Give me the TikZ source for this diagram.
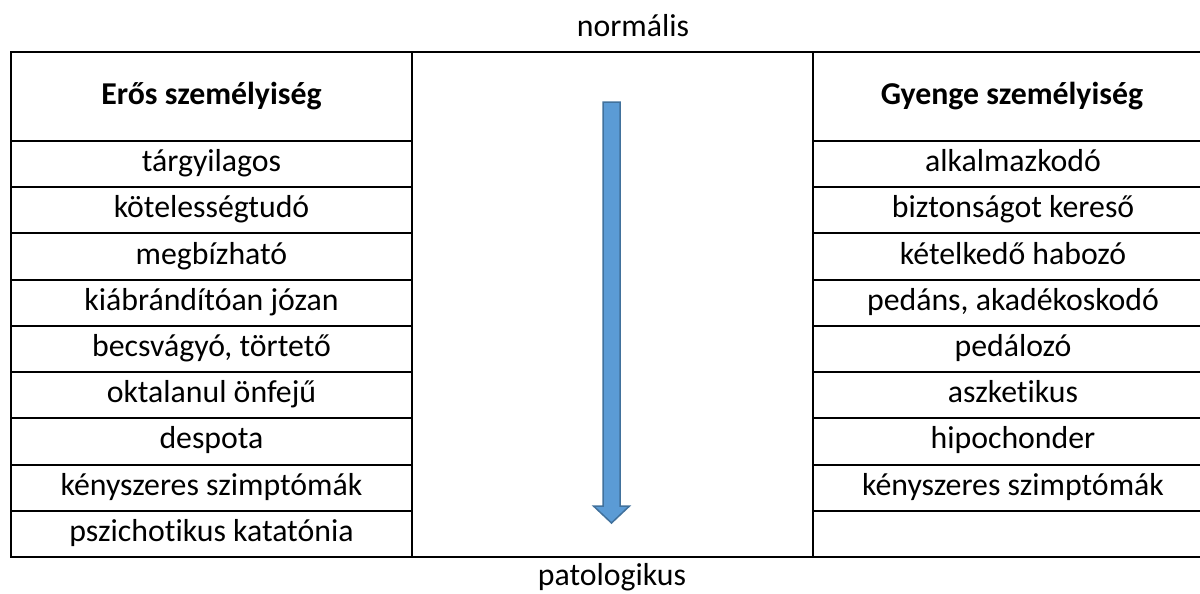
\documentclass[tikz,border=0pt]{standalone}
\usepackage{fontspec}
\setmainfont{Carlito}[Ligatures=NoCommon]
\definecolor{arrfill}{HTML}{5B9BD5}
\definecolor{arrline}{HTML}{41719C}
\begin{document}
\begin{tikzpicture}[x=1pt,y=-1pt,
  cell/.style={anchor=base,inner sep=0pt,font=\fontsize{31.8}{38}\selectfont},
  head/.style={cell,font=\fontsize{31.8}{38}\selectfont\bfseries},
  grid/.style={line width=2pt,black}]
\useasboundingbox (0,0) rectangle (1200,594);
% table lines
\coordinate (tl) at (11,52);
\coordinate (br) at (1213,557);
\draw[grid] (tl) rectangle (br);
\draw[grid] (412,52) -- (412,557);
\draw[grid] (813,52) -- (813,557);
\foreach \i in {0,...,8}{
  \draw[grid] (11,{141+\i*46.222}) -- (412,{141+\i*46.222});
  \draw[grid] (813,{141+\i*46.222}) -- (1213,{141+\i*46.222});
}
% labels
\node[cell] (top) at (633,37) {normális};
\node[cell] (bot) at (612,585) {patologikus};
\node[head] (hl) at (211.5,104) {Erős személyiség};
\node[head] (hr) at (1012,104) {Gyenge személyiség};
\foreach \t [count=\k] in {tárgyilagos,kötelességtudó,megbízható,kiábrándítóan józan,{becsvágyó, törtető},oktalanul önfejű,despota,kényszeres szimptómák,pszichotikus katatónia}{
  \node[cell] (l\k) at (211.5,{141+(\k-0.5)*46.222+7.5}) {\t};
}
\foreach \t [count=\k] in {alkalmazkodó,biztonságot kereső,kételkedő habozó,{pedáns, akadékoskodó},pedálozó,aszketikus,hipochonder,kényszeres szimptómák}{
  \node[cell] (r\k) at (1013,{141+(\k-0.5)*46.222+7.5}) {\t};
}
% arrow
\coordinate (atop) at (611.5,102);
\coordinate (atip) at (611.5,523);
\draw[line width=1.5pt,arrline,fill=arrfill,line join=miter]
  (603,102) -- (620,102) -- (620,506) -- (629.5,506) -- (atip)
  -- (593.5,506) -- (603,506) -- cycle;
\end{tikzpicture}
\end{document}
